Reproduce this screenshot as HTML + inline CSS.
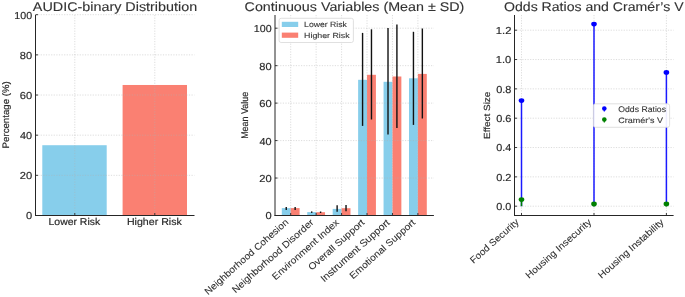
<!DOCTYPE html>
<html><head><meta charset="utf-8"><style>
html,body{margin:0;padding:0;background:#fff;width:685px;height:297px;overflow:hidden}
svg{display:block;will-change:transform}
text{font-family:"Liberation Sans",sans-serif;text-rendering:geometricPrecision}
.t{fill:#2a2a2a;stroke:#2a2a2a;stroke-width:0.18px}
.ti{fill:#333;stroke:#333;stroke-width:0.12px}
.tr{fill:#2e2e2e;stroke:#2e2e2e;stroke-width:0.08px}
.tl{fill:#333;stroke:#333;stroke-width:0.1px}
.g{stroke:#b0b0b0;stroke-opacity:0.55;stroke-width:0.8;stroke-dasharray:1.2,1.4}
</style></head><body>
<svg width="685" height="297" viewBox="0 0 685 297">
<rect width="685" height="297" fill="#fff"/>
<rect x="42.3" y="145.22" width="64.4" height="70.28" fill="#87ceeb"/>
<rect x="122.6" y="84.98" width="64.4" height="130.52" fill="#fa8072"/>
<line class="g" x1="35.50" y1="175.34" x2="194.50" y2="175.34"/>
<line class="g" x1="35.50" y1="135.18" x2="194.50" y2="135.18"/>
<line class="g" x1="35.50" y1="95.02" x2="194.50" y2="95.02"/>
<line class="g" x1="35.50" y1="54.86" x2="194.50" y2="54.86"/>
<line class="g" x1="35.50" y1="14.70" x2="194.50" y2="14.70"/>
<line class="g" x1="74.80" y1="15.00" x2="74.80" y2="215.50"/>
<line class="g" x1="154.80" y1="15.00" x2="154.80" y2="215.50"/>
<line x1="35.5" y1="15.0" x2="35.5" y2="216.0" stroke="#262626" stroke-width="1"/>
<line x1="35.0" y1="215.5" x2="194.5" y2="215.5" stroke="#262626" stroke-width="1"/>
<line x1="35.5" y1="215.50" x2="38.0" y2="215.50" stroke="#262626" stroke-width="0.9"/>
<line x1="35.5" y1="175.34" x2="38.0" y2="175.34" stroke="#262626" stroke-width="0.9"/>
<line x1="35.5" y1="135.18" x2="38.0" y2="135.18" stroke="#262626" stroke-width="0.9"/>
<line x1="35.5" y1="95.02" x2="38.0" y2="95.02" stroke="#262626" stroke-width="0.9"/>
<line x1="35.5" y1="54.86" x2="38.0" y2="54.86" stroke="#262626" stroke-width="0.9"/>
<line x1="35.5" y1="14.70" x2="38.0" y2="14.70" stroke="#262626" stroke-width="0.9"/>
<line x1="74.80" y1="215.5" x2="74.80" y2="213.0" stroke="#262626" stroke-width="0.9"/>
<line x1="154.80" y1="215.5" x2="154.80" y2="213.0" stroke="#262626" stroke-width="0.9"/>
<rect x="281.80" y="208.10" width="8.9" height="7.40" fill="#87ceeb"/>
<rect x="290.70" y="208.10" width="8.9" height="7.40" fill="#fa8072"/>
<rect x="307.24" y="212.10" width="8.9" height="3.40" fill="#87ceeb"/>
<rect x="316.14" y="212.20" width="8.9" height="3.30" fill="#fa8072"/>
<rect x="332.68" y="208.90" width="8.9" height="6.60" fill="#87ceeb"/>
<rect x="341.58" y="208.20" width="8.9" height="7.30" fill="#fa8072"/>
<rect x="358.12" y="79.80" width="8.9" height="135.70" fill="#87ceeb"/>
<rect x="367.02" y="74.80" width="8.9" height="140.70" fill="#fa8072"/>
<rect x="383.56" y="81.80" width="8.9" height="133.70" fill="#87ceeb"/>
<rect x="392.46" y="76.50" width="8.9" height="139.00" fill="#fa8072"/>
<rect x="409.00" y="78.30" width="8.9" height="137.20" fill="#87ceeb"/>
<rect x="417.90" y="73.90" width="8.9" height="141.60" fill="#fa8072"/>
<line class="g" x1="275.00" y1="178.04" x2="433.90" y2="178.04"/>
<line class="g" x1="275.00" y1="140.58" x2="433.90" y2="140.58"/>
<line class="g" x1="275.00" y1="103.12" x2="433.90" y2="103.12"/>
<line class="g" x1="275.00" y1="65.66" x2="433.90" y2="65.66"/>
<line class="g" x1="275.00" y1="28.20" x2="433.90" y2="28.20"/>
<line class="g" x1="290.70" y1="15.00" x2="290.70" y2="215.50"/>
<line class="g" x1="316.14" y1="15.00" x2="316.14" y2="215.50"/>
<line class="g" x1="341.58" y1="15.00" x2="341.58" y2="215.50"/>
<line class="g" x1="367.02" y1="15.00" x2="367.02" y2="215.50"/>
<line class="g" x1="392.46" y1="15.00" x2="392.46" y2="215.50"/>
<line class="g" x1="417.90" y1="15.00" x2="417.90" y2="215.50"/>
<line x1="286.25" y1="207.00" x2="286.25" y2="210.00" stroke="#111" stroke-width="1.4"/>
<line x1="295.15" y1="207.00" x2="295.15" y2="209.90" stroke="#111" stroke-width="1.4"/>
<line x1="311.69" y1="211.40" x2="311.69" y2="212.90" stroke="#111" stroke-width="1.4"/>
<line x1="320.59" y1="211.50" x2="320.59" y2="213.00" stroke="#111" stroke-width="1.4"/>
<line x1="337.13" y1="205.30" x2="337.13" y2="211.70" stroke="#111" stroke-width="1.4"/>
<line x1="346.03" y1="204.90" x2="346.03" y2="211.30" stroke="#111" stroke-width="1.4"/>
<line x1="362.57" y1="32.90" x2="362.57" y2="125.90" stroke="#111" stroke-width="1.4"/>
<line x1="371.47" y1="29.30" x2="371.47" y2="119.50" stroke="#111" stroke-width="1.4"/>
<line x1="388.01" y1="27.90" x2="388.01" y2="134.40" stroke="#111" stroke-width="1.4"/>
<line x1="396.91" y1="24.40" x2="396.91" y2="127.90" stroke="#111" stroke-width="1.4"/>
<line x1="413.45" y1="31.80" x2="413.45" y2="124.90" stroke="#111" stroke-width="1.4"/>
<line x1="422.35" y1="28.50" x2="422.35" y2="118.50" stroke="#111" stroke-width="1.4"/>
<line x1="275.0" y1="15.0" x2="275.0" y2="216.0" stroke="#262626" stroke-width="1"/>
<line x1="274.5" y1="215.5" x2="433.9" y2="215.5" stroke="#262626" stroke-width="1"/>
<line x1="275.0" y1="215.50" x2="277.5" y2="215.50" stroke="#262626" stroke-width="0.9"/>
<line x1="275.0" y1="178.04" x2="277.5" y2="178.04" stroke="#262626" stroke-width="0.9"/>
<line x1="275.0" y1="140.58" x2="277.5" y2="140.58" stroke="#262626" stroke-width="0.9"/>
<line x1="275.0" y1="103.12" x2="277.5" y2="103.12" stroke="#262626" stroke-width="0.9"/>
<line x1="275.0" y1="65.66" x2="277.5" y2="65.66" stroke="#262626" stroke-width="0.9"/>
<line x1="275.0" y1="28.20" x2="277.5" y2="28.20" stroke="#262626" stroke-width="0.9"/>
<line x1="290.70" y1="215.5" x2="290.70" y2="213.0" stroke="#262626" stroke-width="0.9"/>
<line x1="316.14" y1="215.5" x2="316.14" y2="213.0" stroke="#262626" stroke-width="0.9"/>
<line x1="341.58" y1="215.5" x2="341.58" y2="213.0" stroke="#262626" stroke-width="0.9"/>
<line x1="367.02" y1="215.5" x2="367.02" y2="213.0" stroke="#262626" stroke-width="0.9"/>
<line x1="392.46" y1="215.5" x2="392.46" y2="213.0" stroke="#262626" stroke-width="0.9"/>
<line x1="417.90" y1="215.5" x2="417.90" y2="213.0" stroke="#262626" stroke-width="0.9"/>
<rect x="279.1" y="18.3" width="74.3" height="24.2" rx="2" fill="#fff" fill-opacity="0.92" stroke="#d8d8d8" stroke-width="0.8"/>
<rect x="281.8" y="21.8" width="16.4" height="5.2" fill="#87ceeb"/>
<rect x="281.8" y="32.6" width="16.4" height="5.2" fill="#fa8072"/>
<line class="g" x1="514.50" y1="206.20" x2="673.60" y2="206.20"/>
<line class="g" x1="514.50" y1="176.87" x2="673.60" y2="176.87"/>
<line class="g" x1="514.50" y1="147.53" x2="673.60" y2="147.53"/>
<line class="g" x1="514.50" y1="118.20" x2="673.60" y2="118.20"/>
<line class="g" x1="514.50" y1="88.86" x2="673.60" y2="88.86"/>
<line class="g" x1="514.50" y1="59.53" x2="673.60" y2="59.53"/>
<line class="g" x1="514.50" y1="30.20" x2="673.60" y2="30.20"/>
<line class="g" x1="521.50" y1="15.00" x2="521.50" y2="215.50"/>
<line class="g" x1="594.00" y1="15.00" x2="594.00" y2="215.50"/>
<line class="g" x1="666.40" y1="15.00" x2="666.40" y2="215.50"/>
<line x1="521.5" y1="206.20" x2="521.5" y2="100.60" stroke="#1a1aff" stroke-width="1.5"/>
<ellipse cx="521.5" cy="100.60" rx="2.8" ry="2.4" fill="#0000ff"/>
<line x1="594.0" y1="206.20" x2="594.0" y2="24.04" stroke="#1a1aff" stroke-width="1.5"/>
<ellipse cx="594.0" cy="24.04" rx="2.8" ry="2.4" fill="#0000ff"/>
<line x1="666.4" y1="206.20" x2="666.4" y2="72.44" stroke="#1a1aff" stroke-width="1.5"/>
<ellipse cx="666.4" cy="72.44" rx="2.8" ry="2.4" fill="#0000ff"/>
<line x1="521.5" y1="206.20" x2="521.5" y2="199.60" stroke="#008000" stroke-width="1.5"/>
<ellipse cx="521.5" cy="199.60" rx="2.8" ry="2.4" fill="#008000"/>
<line x1="594.0" y1="206.20" x2="594.0" y2="204.00" stroke="#008000" stroke-width="1.5"/>
<ellipse cx="594.0" cy="204.00" rx="2.8" ry="2.4" fill="#008000"/>
<line x1="666.4" y1="206.20" x2="666.4" y2="204.00" stroke="#008000" stroke-width="1.5"/>
<ellipse cx="666.4" cy="204.00" rx="2.8" ry="2.4" fill="#008000"/>
<line x1="514.5" y1="15.0" x2="514.5" y2="216.0" stroke="#262626" stroke-width="1"/>
<line x1="514.0" y1="215.5" x2="673.6" y2="215.5" stroke="#262626" stroke-width="1"/>
<line x1="514.5" y1="206.20" x2="517.0" y2="206.20" stroke="#262626" stroke-width="0.9"/>
<line x1="514.5" y1="176.87" x2="517.0" y2="176.87" stroke="#262626" stroke-width="0.9"/>
<line x1="514.5" y1="147.53" x2="517.0" y2="147.53" stroke="#262626" stroke-width="0.9"/>
<line x1="514.5" y1="118.20" x2="517.0" y2="118.20" stroke="#262626" stroke-width="0.9"/>
<line x1="514.5" y1="88.86" x2="517.0" y2="88.86" stroke="#262626" stroke-width="0.9"/>
<line x1="514.5" y1="59.53" x2="517.0" y2="59.53" stroke="#262626" stroke-width="0.9"/>
<line x1="514.5" y1="30.20" x2="517.0" y2="30.20" stroke="#262626" stroke-width="0.9"/>
<line x1="521.50" y1="215.5" x2="521.50" y2="213.0" stroke="#262626" stroke-width="0.9"/>
<line x1="594.00" y1="215.5" x2="594.00" y2="213.0" stroke="#262626" stroke-width="0.9"/>
<line x1="666.40" y1="215.5" x2="666.40" y2="213.0" stroke="#262626" stroke-width="0.9"/>
<rect x="593.4" y="103.8" width="76.2" height="23.5" rx="2" fill="#fff" fill-opacity="0.92" stroke="#d8d8d8" stroke-width="0.8"/>
<line x1="604.3" y1="108.5" x2="604.3" y2="111.5" stroke="#0000ff" stroke-width="1.2"/>
<circle cx="604.3" cy="108.5" r="2.3" fill="#0000ff"/>
<line x1="604.3" y1="119.5" x2="604.3" y2="122.5" stroke="#008000" stroke-width="1.2"/>
<circle cx="604.3" cy="119.5" r="2.3" fill="#008000"/>
<text class="ti" transform="translate(32.86,10.60) scale(1.1352,1)" font-size="12.65">AUDIC-binary Distribution</text>
<text class="t" transform="translate(25.96,219.45) scale(1.0904,1)" font-size="10.18">0</text>
<text class="t" transform="translate(19.74,179.29) scale(1.0953,1)" font-size="10.18">20</text>
<text class="t" transform="translate(20.06,139.13) scale(1.0666,1)" font-size="10.18">40</text>
<text class="t" transform="translate(19.74,98.97) scale(1.0953,1)" font-size="10.18">60</text>
<text class="t" transform="translate(19.83,58.81) scale(1.0873,1)" font-size="10.18">80</text>
<text class="t" transform="translate(14.30,18.65) scale(1.0487,1)" font-size="10.18">100</text>
<text class="t" transform="translate(8.70,147.60) rotate(-90.00) translate(-0.80,0) scale(1.0235,1)" font-size="9.45">Percentage (%)</text>
<text class="t" transform="translate(48.54,224.70) scale(1.0570,1)" font-size="9.88">Lower Risk</text>
<text class="t" transform="translate(126.94,224.70) scale(1.0739,1)" font-size="9.88">Higher Risk</text>
<text class="tl" transform="translate(304.08,27.00) scale(1.1266,1)" font-size="7.70">Lower Risk</text>
<text class="tl" transform="translate(304.07,37.80) scale(1.1683,1)" font-size="7.56">Higher Risk</text>
<text class="ti" transform="translate(244.58,10.60) scale(1.1313,1)" font-size="12.65">Continuous Variables (Mean ± SD)</text>
<text class="t" transform="translate(265.46,219.45) scale(1.0904,1)" font-size="10.18">0</text>
<text class="t" transform="translate(259.24,181.99) scale(1.0953,1)" font-size="10.18">20</text>
<text class="t" transform="translate(259.56,144.53) scale(1.0666,1)" font-size="10.18">40</text>
<text class="t" transform="translate(259.24,107.07) scale(1.0953,1)" font-size="10.18">60</text>
<text class="t" transform="translate(259.33,69.61) scale(1.0873,1)" font-size="10.18">80</text>
<text class="t" transform="translate(253.80,32.15) scale(1.0487,1)" font-size="10.18">100</text>
<text class="t" transform="translate(248.10,138.10) rotate(-90.00) translate(-0.74,0) scale(0.9274,1)" font-size="9.66">Mean Value</text>
<text class="tr" transform="translate(288.70,223.40) rotate(-41.70) translate(-108.03,0) scale(1.0586,1)" font-size="9.52">Neighborhood Cohesion</text>
<text class="tr" transform="translate(314.14,223.40) rotate(-41.70) translate(-105.45,0) scale(1.0731,1)" font-size="9.52">Neighborhood Disorder</text>
<text class="tr" transform="translate(339.58,223.40) rotate(-41.70) translate(-85.66,0) scale(1.0812,1)" font-size="9.52">Environment Index</text>
<text class="tr" transform="translate(365.02,223.40) rotate(-41.70) translate(-71.19,0) scale(1.0779,1)" font-size="9.52">Overall Support</text>
<text class="tr" transform="translate(390.46,223.40) rotate(-41.70) translate(-88.78,0) scale(1.0562,1)" font-size="9.89">Instrument Support</text>
<text class="tr" transform="translate(415.90,223.40) rotate(-41.70) translate(-84.34,0) scale(1.0781,1)" font-size="9.52">Emotional Support</text>
<text class="tl" transform="translate(618.29,112.10) scale(1.0676,1)" font-size="8.14">Odds Ratios</text>
<text class="tl" transform="translate(618.25,122.60) scale(1.1458,1)" font-size="7.85">Cramér's V</text>
<text class="ti" transform="translate(504.03,10.60) scale(1.1144,1)" font-size="12.65">Odds Ratios and Cramér’s V</text>
<text class="t" transform="translate(496.16,210.15) scale(1.0703,1)" font-size="10.18">0.0</text>
<text class="t" transform="translate(496.16,180.82) scale(1.0806,1)" font-size="10.18">0.2</text>
<text class="t" transform="translate(496.17,151.48) scale(1.0622,1)" font-size="10.18">0.4</text>
<text class="t" transform="translate(496.16,122.15) scale(1.0744,1)" font-size="10.18">0.6</text>
<text class="t" transform="translate(496.16,92.81) scale(1.0744,1)" font-size="10.18">0.8</text>
<text class="t" transform="translate(495.76,63.48) scale(1.0997,1)" font-size="10.18">1.0</text>
<text class="t" transform="translate(495.75,34.15) scale(1.1105,1)" font-size="10.18">1.2</text>
<text class="t" transform="translate(489.50,138.10) rotate(-90.00) translate(-0.82,0) scale(1.1243,1)" font-size="8.83">Effect Size</text>
<text class="tr" transform="translate(519.50,223.00) rotate(-41.70) translate(-61.70,0) scale(1.0512,1)" font-size="9.52">Food Security</text>
<text class="tr" transform="translate(592.00,223.00) rotate(-41.70) translate(-84.34,0) scale(1.0774,1)" font-size="9.52">Housing Insecurity</text>
<text class="tr" transform="translate(664.40,223.00) rotate(-41.70) translate(-84.21,0) scale(1.0907,1)" font-size="9.52">Housing Instability</text>
</svg>
</body></html>
